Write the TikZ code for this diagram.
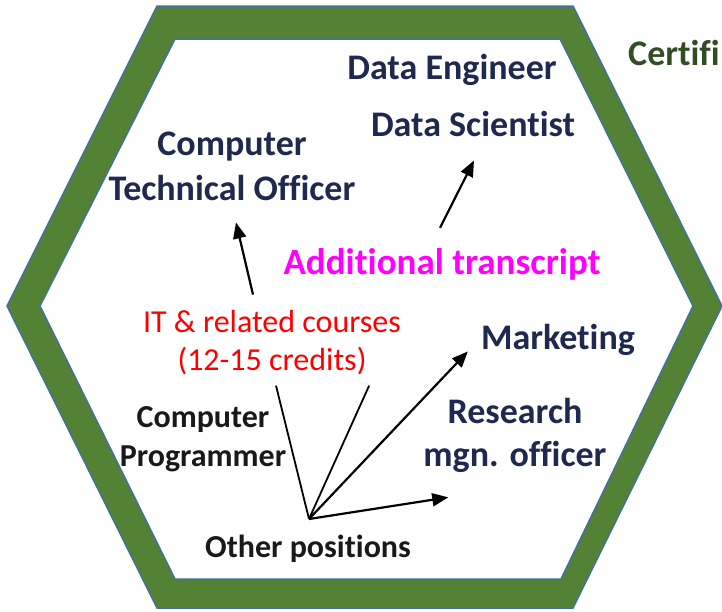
\documentclass[tikz,border=0pt]{standalone}
\usepackage{fontspec}
\setmainfont{Carlito}[Ligatures=NoCommon]
\usetikzlibrary{arrows.meta, positioning}
\definecolor{hexgreen}{RGB}{84,130,53}
\definecolor{hexblue}{RGB}{65,113,156}
\definecolor{jobnavy}{RGB}{31,40,78}
\definecolor{certgreen}{RGB}{50,76,36}
\definecolor{addmagenta}{RGB}{255,0,255}
\definecolor{coursered}{RGB}{255,0,0}
\tikzset{
  job/.style    = {text=jobnavy, font=\fontsize{36pt}{45pt}\selectfont\bfseries,
                   align=center, inner sep=0pt},
  other/.style  = {text=black!90, font=\fontsize{32pt}{39pt}\selectfont\bfseries,
                   align=center, inner sep=0pt},
  course/.style = {text=coursered, font=\fontsize{32pt}{38pt}\selectfont,
                   align=center, inner sep=0pt},
  arrow/.style  = {-{Triangle[length=16pt, width=13pt]}, line width=2.2pt},
  link/.style   = {line width=1.8pt},
  band/.style   = {draw=hexblue, line width=1.5pt},
}

\begin{document}
\begin{tikzpicture}[x=1pt, y=-1pt]
  \useasboundingbox (0,0) rectangle (722,611);

  % hexagon band
  \filldraw[band, fill=hexgreen] (157,6) -- (573,6) -- (722,306) -- (573,608)
    -- (157,608) -- (7,306) -- cycle;
  \filldraw[band, fill=white] (175,39) -- (560,39) -- (693,306) -- (561,579)
    -- (175,579) -- (40,306) -- cycle;

  % positions
  \node[job, anchor=base] (de)  at (452,79)  {Data Engineer};
  \node[job, anchor=base] (ds)  at (473,136) {Data Scientist};
  \node[job, anchor=base] (cto) at (232,200) {Computer\\Technical Officer};
  \node[job, anchor=base] (mkt) at (558,349) {Marketing};
  \node[job, anchor=base, font=\fontsize{36pt}{43pt}\selectfont\bfseries]
    (rmo) at (515,466) {Research\\mgn. officer};
  \node[other, anchor=base] (cpr) at (203,466) {Computer\\Programmer};
  \node[other, anchor=base] (oth) at (308,557) {Other positions};

  % study routes
  \node[text=addmagenta, font=\fontsize{37pt}{44pt}\selectfont\bfseries,
        inner sep=0pt, anchor=base] (add) at (442,274) {Additional transcript};
  \node[course, anchor=base] (itc) at (272,370) {IT \& related courses\\(12-15 credits)};
  \node[text=certgreen, font=\fontsize{36pt}{44pt}\selectfont\bfseries,
        inner sep=0pt, anchor=base west] (cert) at (628,65) {Certifi};

  \coordinate (hub) at (309,519);

  % connectors
  \draw[arrow] ([xshift=-19pt, yshift=15pt]itc.north) -- ([xshift=4pt, yshift=-22pt]cto.south);
  \draw[arrow] ([xshift=-2pt, yshift=20pt]add.north) -- ([xshift=1pt, yshift=-24pt]ds.south);
  \draw[link] (hub) -- ([xshift=4pt, yshift=-11pt]itc.south);
  \draw[link] (hub) -- ([xshift=-32pt, yshift=-11pt]itc.south east);
  \draw[arrow] (hub) -- ([xshift=-13pt, yshift=-12pt]mkt.west);
  \draw[arrow] (hub) -- ([xshift=25pt, yshift=-25pt]rmo.south west);
\end{tikzpicture}
\end{document}
